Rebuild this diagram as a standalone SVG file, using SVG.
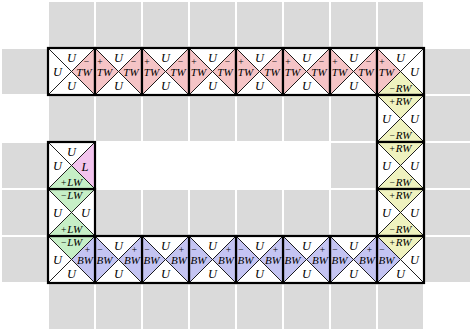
<svg xmlns="http://www.w3.org/2000/svg" xmlns:xlink="http://www.w3.org/1999/xlink" width="472" height="332" viewBox="0 0 472 332">
<style>
.g{fill:#dadada}
.w{fill:#ffffff}
.tw{fill:#f5c4c6}
.rw{fill:#eff2bf}
.lw{fill:#c6efc6}
.bw{fill:#c4c4f2}
.lm{fill:#f2c4ee}
.tri{stroke:#000;stroke-width:0.8;stroke-linejoin:miter}
.fr{fill:none;stroke:#000;stroke-width:2.2}
text{font-family:"Liberation Serif","DejaVu Serif",serif;font-style:italic;fill:#000;text-anchor:middle}
.u{font-size:12.5px}
.m{font-size:11px}
.s{font-size:9.5px;font-style:normal}
</style>
<defs>
<path id="pT" d="M0,0H47L23.5,23.5Z"/>
<path id="pR" d="M47,0V47L23.5,23.5Z"/>
<path id="pB" d="M47,47H0L23.5,23.5Z"/>
<path id="pL" d="M0,47V0L23.5,23.5Z"/>
</defs>
<g id="background">
<rect class="g" x="49" y="2" width="45" height="45"/><rect class="g" x="96" y="2" width="45" height="45"/><rect class="g" x="143" y="2" width="45" height="45"/><rect class="g" x="190" y="2" width="45" height="45"/><rect class="g" x="237" y="2" width="45" height="45"/><rect class="g" x="284" y="2" width="45" height="45"/><rect class="g" x="331" y="2" width="45" height="45"/><rect class="g" x="378" y="2" width="45" height="45"/>
<rect class="g" x="2" y="49" width="45" height="45"/><rect class="g" x="425" y="49" width="45" height="45"/>
<rect class="g" x="49" y="96" width="45" height="45"/><rect class="g" x="96" y="96" width="45" height="45"/><rect class="g" x="143" y="96" width="45" height="45"/><rect class="g" x="190" y="96" width="45" height="45"/><rect class="g" x="237" y="96" width="45" height="45"/><rect class="g" x="284" y="96" width="45" height="45"/><rect class="g" x="331" y="96" width="45" height="45"/><rect class="g" x="425" y="96" width="45" height="45"/>
<rect class="g" x="2" y="143" width="45" height="45"/><rect class="g" x="331" y="143" width="45" height="45"/><rect class="g" x="425" y="143" width="45" height="45"/>
<rect class="g" x="2" y="190" width="45" height="45"/><rect class="g" x="96" y="190" width="45" height="45"/><rect class="g" x="143" y="190" width="45" height="45"/><rect class="g" x="190" y="190" width="45" height="45"/><rect class="g" x="237" y="190" width="45" height="45"/><rect class="g" x="284" y="190" width="45" height="45"/><rect class="g" x="331" y="190" width="45" height="45"/><rect class="g" x="425" y="190" width="45" height="45"/>
<rect class="g" x="2" y="237" width="45" height="45"/><rect class="g" x="425" y="237" width="45" height="45"/>
<rect class="g" x="49" y="284" width="45" height="45"/><rect class="g" x="96" y="284" width="45" height="45"/><rect class="g" x="143" y="284" width="45" height="45"/><rect class="g" x="190" y="284" width="45" height="45"/><rect class="g" x="237" y="284" width="45" height="45"/><rect class="g" x="284" y="284" width="45" height="45"/><rect class="g" x="331" y="284" width="45" height="45"/><rect class="g" x="378" y="284" width="45" height="45"/>
</g>
<g id="tiles">
<!-- top row -->
<g id="tile-1-1" transform="translate(48,48)">
<use xlink:href="#pT" class="w tri"/><use xlink:href="#pR" class="tw tri"/><use xlink:href="#pB" class="w tri"/><use xlink:href="#pL" class="w tri"/>
<text class="u" x="23.5" y="13.5">U</text><text class="u" x="23.5" y="42">U</text><text class="u" x="9.5" y="27.5">U</text>
<text class="s" x="38.5" y="16.5">−</text><text class="m" x="36" y="27.5">TW</text>
<rect class="fr" width="47" height="47"/>
</g>
<g id="tile-2-1" transform="translate(95,48)">
<use xlink:href="#pT" class="w tri"/><use xlink:href="#pR" class="tw tri"/><use xlink:href="#pB" class="w tri"/><use xlink:href="#pL" class="tw tri"/>
<text class="u" x="23.5" y="13.5">U</text><text class="u" x="23.5" y="42">U</text>
<text class="s" x="5" y="16.5">+</text><text class="m" x="9.5" y="27.5">TW</text>
<text class="s" x="38.5" y="16.5">−</text><text class="m" x="36" y="27.5">TW</text>
<rect class="fr" width="47" height="47"/>
</g>
<g id="tile-3-1" transform="translate(142,48)">
<use xlink:href="#pT" class="w tri"/><use xlink:href="#pR" class="tw tri"/><use xlink:href="#pB" class="w tri"/><use xlink:href="#pL" class="tw tri"/>
<text class="u" x="23.5" y="13.5">U</text><text class="u" x="23.5" y="42">U</text>
<text class="s" x="5" y="16.5">+</text><text class="m" x="9.5" y="27.5">TW</text>
<text class="s" x="38.5" y="16.5">−</text><text class="m" x="36" y="27.5">TW</text>
<rect class="fr" width="47" height="47"/>
</g>
<g id="tile-4-1" transform="translate(189,48)">
<use xlink:href="#pT" class="w tri"/><use xlink:href="#pR" class="tw tri"/><use xlink:href="#pB" class="w tri"/><use xlink:href="#pL" class="tw tri"/>
<text class="u" x="23.5" y="13.5">U</text><text class="u" x="23.5" y="42">U</text>
<text class="s" x="5" y="16.5">+</text><text class="m" x="9.5" y="27.5">TW</text>
<text class="s" x="38.5" y="16.5">−</text><text class="m" x="36" y="27.5">TW</text>
<rect class="fr" width="47" height="47"/>
</g>
<g id="tile-5-1" transform="translate(236,48)">
<use xlink:href="#pT" class="w tri"/><use xlink:href="#pR" class="tw tri"/><use xlink:href="#pB" class="w tri"/><use xlink:href="#pL" class="tw tri"/>
<text class="u" x="23.5" y="13.5">U</text><text class="u" x="23.5" y="42">U</text>
<text class="s" x="5" y="16.5">+</text><text class="m" x="9.5" y="27.5">TW</text>
<text class="s" x="38.5" y="16.5">−</text><text class="m" x="36" y="27.5">TW</text>
<rect class="fr" width="47" height="47"/>
</g>
<g id="tile-6-1" transform="translate(283,48)">
<use xlink:href="#pT" class="w tri"/><use xlink:href="#pR" class="tw tri"/><use xlink:href="#pB" class="w tri"/><use xlink:href="#pL" class="tw tri"/>
<text class="u" x="23.5" y="13.5">U</text><text class="u" x="23.5" y="42">U</text>
<text class="s" x="5" y="16.5">+</text><text class="m" x="9.5" y="27.5">TW</text>
<text class="s" x="38.5" y="16.5">−</text><text class="m" x="36" y="27.5">TW</text>
<rect class="fr" width="47" height="47"/>
</g>
<g id="tile-7-1" transform="translate(330,48)">
<use xlink:href="#pT" class="w tri"/><use xlink:href="#pR" class="tw tri"/><use xlink:href="#pB" class="w tri"/><use xlink:href="#pL" class="tw tri"/>
<text class="u" x="23.5" y="13.5">U</text><text class="u" x="23.5" y="42">U</text>
<text class="s" x="5" y="16.5">+</text><text class="m" x="9.5" y="27.5">TW</text>
<text class="s" x="38.5" y="16.5">−</text><text class="m" x="36" y="27.5">TW</text>
<rect class="fr" width="47" height="47"/>
</g>
<g id="tile-8-1" transform="translate(377,48)">
<use xlink:href="#pT" class="w tri"/><use xlink:href="#pR" class="w tri"/><use xlink:href="#pB" class="rw tri"/><use xlink:href="#pL" class="tw tri"/>
<text class="u" x="23.5" y="13.5">U</text><text class="u" x="37.5" y="27.5">U</text>
<text class="s" x="5" y="16.5">+</text><text class="m" x="9.5" y="27.5">TW</text>
<text class="m" x="23.5" y="44"><tspan class="s">−</tspan><tspan dx="1">RW</tspan></text>
<rect class="fr" width="47" height="47"/>
</g>
<!-- right column -->
<g id="tile-8-2" transform="translate(377,95)">
<use xlink:href="#pT" class="rw tri"/><use xlink:href="#pR" class="w tri"/><use xlink:href="#pB" class="rw tri"/><use xlink:href="#pL" class="w tri"/>
<text class="m" x="23.5" y="9.5"><tspan class="s">+</tspan><tspan dx="1">RW</tspan></text>
<text class="u" x="9.5" y="27.5">U</text><text class="u" x="37.5" y="27.5">U</text>
<text class="m" x="23.5" y="44"><tspan class="s">−</tspan><tspan dx="1">RW</tspan></text>
<rect class="fr" width="47" height="47"/>
</g>
<g id="tile-8-3" transform="translate(377,142)">
<use xlink:href="#pT" class="rw tri"/><use xlink:href="#pR" class="w tri"/><use xlink:href="#pB" class="rw tri"/><use xlink:href="#pL" class="w tri"/>
<text class="m" x="23.5" y="9.5"><tspan class="s">+</tspan><tspan dx="1">RW</tspan></text>
<text class="u" x="9.5" y="27.5">U</text><text class="u" x="37.5" y="27.5">U</text>
<text class="m" x="23.5" y="44"><tspan class="s">−</tspan><tspan dx="1">RW</tspan></text>
<rect class="fr" width="47" height="47"/>
</g>
<g id="tile-8-4" transform="translate(377,189)">
<use xlink:href="#pT" class="rw tri"/><use xlink:href="#pR" class="w tri"/><use xlink:href="#pB" class="rw tri"/><use xlink:href="#pL" class="w tri"/>
<text class="m" x="23.5" y="9.5"><tspan class="s">+</tspan><tspan dx="1">RW</tspan></text>
<text class="u" x="9.5" y="27.5">U</text><text class="u" x="37.5" y="27.5">U</text>
<text class="m" x="23.5" y="44"><tspan class="s">−</tspan><tspan dx="1">RW</tspan></text>
<rect class="fr" width="47" height="47"/>
</g>
<g id="tile-8-5" transform="translate(377,236)">
<use xlink:href="#pT" class="rw tri"/><use xlink:href="#pR" class="w tri"/><use xlink:href="#pB" class="w tri"/><use xlink:href="#pL" class="bw tri"/>
<text class="m" x="23.5" y="9.5"><tspan class="s">+</tspan><tspan dx="1">RW</tspan></text>
<text class="s" x="5" y="16.5">−</text><text class="m" x="9.5" y="27.5">BW</text>
<text class="u" x="37.5" y="27.5">U</text><text class="u" x="23.5" y="42">U</text>
<rect class="fr" width="47" height="47"/>
</g>
<!-- bottom row -->
<g id="tile-7-5" transform="translate(330,236)">
<use xlink:href="#pT" class="w tri"/><use xlink:href="#pR" class="bw tri"/><use xlink:href="#pB" class="w tri"/><use xlink:href="#pL" class="bw tri"/>
<text class="u" x="23.5" y="13.5">U</text><text class="u" x="23.5" y="42">U</text>
<text class="s" x="5" y="16.5">−</text><text class="m" x="9.5" y="27.5">BW</text>
<text class="s" x="39.5" y="16.5">+</text><text class="m" x="37" y="27.5">BW</text>
<rect class="fr" width="47" height="47"/>
</g>
<g id="tile-6-5" transform="translate(283,236)">
<use xlink:href="#pT" class="w tri"/><use xlink:href="#pR" class="bw tri"/><use xlink:href="#pB" class="w tri"/><use xlink:href="#pL" class="bw tri"/>
<text class="u" x="23.5" y="13.5">U</text><text class="u" x="23.5" y="42">U</text>
<text class="s" x="5" y="16.5">−</text><text class="m" x="9.5" y="27.5">BW</text>
<text class="s" x="39.5" y="16.5">+</text><text class="m" x="37" y="27.5">BW</text>
<rect class="fr" width="47" height="47"/>
</g>
<g id="tile-5-5" transform="translate(236,236)">
<use xlink:href="#pT" class="w tri"/><use xlink:href="#pR" class="bw tri"/><use xlink:href="#pB" class="w tri"/><use xlink:href="#pL" class="bw tri"/>
<text class="u" x="23.5" y="13.5">U</text><text class="u" x="23.5" y="42">U</text>
<text class="s" x="5" y="16.5">−</text><text class="m" x="9.5" y="27.5">BW</text>
<text class="s" x="39.5" y="16.5">+</text><text class="m" x="37" y="27.5">BW</text>
<rect class="fr" width="47" height="47"/>
</g>
<g id="tile-4-5" transform="translate(189,236)">
<use xlink:href="#pT" class="w tri"/><use xlink:href="#pR" class="bw tri"/><use xlink:href="#pB" class="w tri"/><use xlink:href="#pL" class="bw tri"/>
<text class="u" x="23.5" y="13.5">U</text><text class="u" x="23.5" y="42">U</text>
<text class="s" x="5" y="16.5">−</text><text class="m" x="9.5" y="27.5">BW</text>
<text class="s" x="39.5" y="16.5">+</text><text class="m" x="37" y="27.5">BW</text>
<rect class="fr" width="47" height="47"/>
</g>
<g id="tile-3-5" transform="translate(142,236)">
<use xlink:href="#pT" class="w tri"/><use xlink:href="#pR" class="bw tri"/><use xlink:href="#pB" class="w tri"/><use xlink:href="#pL" class="bw tri"/>
<text class="u" x="23.5" y="13.5">U</text><text class="u" x="23.5" y="42">U</text>
<text class="s" x="5" y="16.5">−</text><text class="m" x="9.5" y="27.5">BW</text>
<text class="s" x="39.5" y="16.5">+</text><text class="m" x="37" y="27.5">BW</text>
<rect class="fr" width="47" height="47"/>
</g>
<g id="tile-2-5" transform="translate(95,236)">
<use xlink:href="#pT" class="w tri"/><use xlink:href="#pR" class="bw tri"/><use xlink:href="#pB" class="w tri"/><use xlink:href="#pL" class="bw tri"/>
<text class="u" x="23.5" y="13.5">U</text><text class="u" x="23.5" y="42">U</text>
<text class="s" x="5" y="16.5">−</text><text class="m" x="9.5" y="27.5">BW</text>
<text class="s" x="39.5" y="16.5">+</text><text class="m" x="37" y="27.5">BW</text>
<rect class="fr" width="47" height="47"/>
</g>
<g id="tile-1-5" transform="translate(48,236)">
<use xlink:href="#pT" class="lw tri"/><use xlink:href="#pR" class="bw tri"/><use xlink:href="#pB" class="w tri"/><use xlink:href="#pL" class="w tri"/>
<text class="m" x="23.5" y="9.5"><tspan class="s">−</tspan><tspan dx="1">LW</tspan></text>
<text class="u" x="9.5" y="27.5">U</text><text class="u" x="23.5" y="42">U</text>
<text class="s" x="39.5" y="16.5">+</text><text class="m" x="37" y="27.5">BW</text>
<rect class="fr" width="47" height="47"/>
</g>
<!-- left column -->
<g id="tile-1-4" transform="translate(48,189)">
<use xlink:href="#pT" class="lw tri"/><use xlink:href="#pR" class="w tri"/><use xlink:href="#pB" class="lw tri"/><use xlink:href="#pL" class="w tri"/>
<text class="m" x="23.5" y="9.5"><tspan class="s">−</tspan><tspan dx="1">LW</tspan></text>
<text class="u" x="9.5" y="27.5">U</text><text class="u" x="37.5" y="27.5">U</text>
<text class="m" x="23.5" y="44"><tspan class="s">+</tspan><tspan dx="1">LW</tspan></text>
<rect class="fr" width="47" height="47"/>
</g>
<g id="tile-1-3" transform="translate(48,142)">
<use xlink:href="#pT" class="w tri"/><use xlink:href="#pR" class="lm tri"/><use xlink:href="#pB" class="lw tri"/><use xlink:href="#pL" class="w tri"/>
<text class="u" x="23.5" y="13.5">U</text><text class="u" x="9.5" y="27.5">U</text>
<text class="u" x="37" y="28.5">L</text>
<text class="m" x="23.5" y="44"><tspan class="s">+</tspan><tspan dx="1">LW</tspan></text>
<rect class="fr" width="47" height="47"/>
</g>
</g>
</svg>
